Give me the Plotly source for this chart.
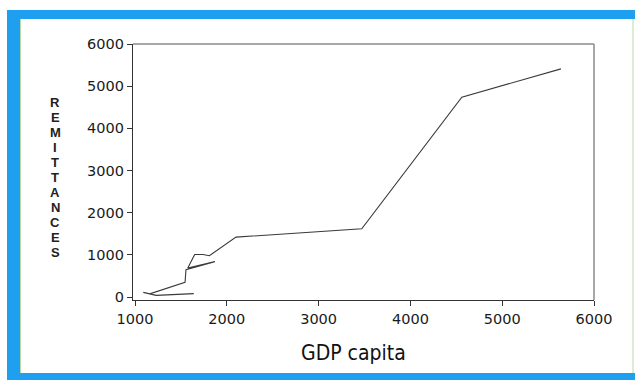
import plotly.graph_objects as go

# GDP per capita (x) and remittances (y), in time order
gdp_capita = [1640, 1450, 1230, 1090, 1160, 1545, 1555, 1870, 1575, 1650, 1740, 1810, 2100, 3470, 4560, 5640]
remittances = [80, 55, 40, 110, 75, 350, 650, 840, 690, 1010, 1010, 980, 1420, 1620, 4740, 5410]

x_ticks = [1000, 2000, 3000, 4000, 5000, 6000]
y_ticks = [0, 1000, 2000, 3000, 4000, 5000, 6000]
y_title = "REMITTANCES"
x_title = "GDP capita"

W, H = 635, 380
L, R, T, B = 133, 41, 44, 80
PW, PH = W - L - R, H - T - B


def px(x):
    return (x - L) / PW


def py(y):
    return (H - B - y) / PH


fig = go.Figure()
fig.add_trace(go.Scatter(
    x=gdp_capita, y=remittances, mode="lines",
    line=dict(color="#3a3a3a", width=1.1), showlegend=False,
))

axis_font = dict(family="DejaVu Sans, sans-serif", size=14.5, color="#1a1a1a")

fig.update_xaxes(
    range=[978, 6000], tickvals=x_ticks, ticks="outside", ticklen=5,
    tickcolor="#333", showline=True, linecolor="#333", linewidth=1.2,
    showgrid=False, zeroline=False, tickfont=axis_font,
)
fig.update_yaxes(
    range=[-70, 6000], tickvals=y_ticks, ticks="outside", ticklen=5,
    tickcolor="#333", showline=True, linecolor="#333", linewidth=1.2,
    showgrid=False, zeroline=False, tickfont=axis_font,
)

shapes = [
    # top and right frame lines
    dict(type="line", xref="paper", yref="paper", x0=0, x1=1, y0=1, y1=1,
         line=dict(color="#8a8a8a", width=1.5)),
    dict(type="line", xref="paper", yref="paper", x0=1, x1=1, y0=0, y1=1,
         line=dict(color="#8a8a8a", width=1.5)),
    # blue border
    dict(type="rect", xref="paper", yref="paper", x0=px(7), x1=px(20), y0=py(380), y1=py(10),
         fillcolor="#1E9FEF", line=dict(width=0), layer="below"),
    dict(type="rect", xref="paper", yref="paper", x0=px(7), x1=px(635), y0=py(19), y1=py(10),
         fillcolor="#1E9FEF", line=dict(width=0), layer="below"),
    dict(type="rect", xref="paper", yref="paper", x0=px(7), x1=px(635), y0=py(380), y1=py(373),
         fillcolor="#1E9FEF", line=dict(width=0), layer="below"),
    # thin inner edge lines
    dict(type="line", xref="paper", yref="paper", x0=px(20.5), x1=px(20.5), y0=py(373), y1=py(19),
         line=dict(color="#b6dca8", width=1), layer="below"),
    dict(type="line", xref="paper", yref="paper", x0=px(633), x1=px(633), y0=py(373), y1=py(19),
         line=dict(color="#b6dca8", width=1), layer="below"),
]

# stacked vertical axis title, one letter per row
annotations = [
    dict(text="<b>%s</b>" % ch, xref="paper", yref="paper",
         x=px(55), y=py(102 + i * 15), showarrow=False,
         xanchor="center", yanchor="middle",
         font=dict(family="Liberation Sans, Arial, sans-serif", size=13, color="#222"))
    for i, ch in enumerate(y_title)
]
annotations.append(
    dict(text=x_title, xref="paper", yref="paper", x=px(353), y=py(353),
         showarrow=False, xanchor="center", yanchor="middle",
         font=dict(family="DejaVu Sans Condensed, DejaVu Sans, sans-serif", size=21, color="#111"))
)

fig.update_layout(
    width=W, height=H, margin=dict(l=L, r=R, t=T, b=B),
    paper_bgcolor="white", plot_bgcolor="white",
    shapes=shapes, annotations=annotations,
)

fig.write_html("out.html")
